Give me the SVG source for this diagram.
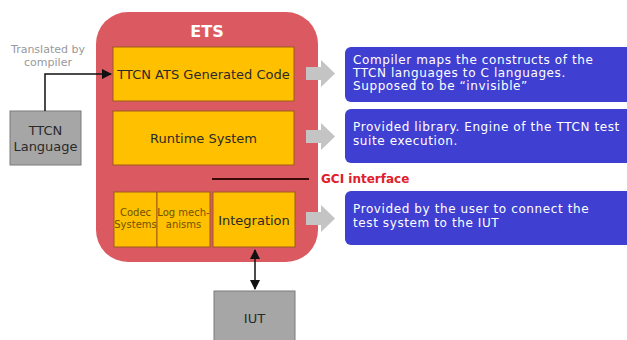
<svg xmlns="http://www.w3.org/2000/svg" width="627" height="340" viewBox="0 0 627 340">
<defs>
<style>
text{font-family:"DejaVu Sans","Verdana",sans-serif}
.ylw{fill:#ffc000;stroke:#9c5a1c;stroke-width:1}
.gry{fill:#a6a6a6;stroke:#7a7a7a;stroke-width:1}
.blu{fill:#3f3fd2}
.bt{fill:#fff;font-size:12px;letter-spacing:0.6px}
.dk{fill:#2a2a2a;font-size:13px;text-anchor:middle}
.sm{fill:#6e5200;font-size:10px;text-anchor:middle}
.ga{fill:#c4c4c4}
</style>
<marker id="ah" viewBox="0 0 10 10" refX="9" refY="5" markerWidth="7" markerHeight="7" orient="auto-start-reverse"><path d="M0,0 L10,5 L0,10 z" fill="#111"/></marker>
</defs>
<rect width="627" height="340" fill="#fff"/>
<g id="ets">
<rect x="96" y="12" width="222" height="250" rx="32" fill="#db5a61"/>
<text x="207" y="37" fill="#fff" font-size="16" font-weight="bold" text-anchor="middle">ETS</text>
</g>
<g id="ats"><rect class="ylw" x="113" y="47" width="181" height="54"/><text class="dk" x="203.5" y="79" font-size="14">TTCN ATS Generated Code</text></g>
<g id="runtime"><rect class="ylw" x="113" y="111" width="181" height="54"/><text class="dk" x="203.5" y="143">Runtime System</text></g>
<g id="codec"><rect class="ylw" x="114" y="192" width="43" height="55"/><text class="sm" x="135.5" y="216">Codec</text><text class="sm" x="135.5" y="228">Systems</text></g>
<g id="log"><rect class="ylw" x="157" y="192" width="53" height="55"/><text class="sm" x="183.5" y="216">Log mech-</text><text class="sm" x="183.5" y="228">anisms</text></g>
<g id="integration"><rect class="ylw" x="213" y="192" width="82" height="55"/><text class="dk" x="254" y="225" font-size="14">Integration</text></g>
<g id="ttcn"><rect class="gry" x="10" y="111" width="71" height="54"/><text class="dk" x="45.5" y="135">TTCN</text><text class="dk" x="45.5" y="151">Language</text></g>
<g id="iut"><rect class="gry" x="214" y="291" width="81" height="55"/><text class="dk" x="254.5" y="323">IUT</text></g>
<g id="translated"><text x="48" y="53" fill="#999" font-size="11" text-anchor="middle">Translated by</text><text x="48" y="66" fill="#999" font-size="11" text-anchor="middle">compiler</text></g>
<g id="gci"><text x="321" y="183" fill="#e0202a" font-size="12" font-weight="bold">GCI interface</text></g>
<g id="desc1"><rect class="blu" x="345" y="47" width="290" height="55" rx="6"/><text class="bt" x="353" y="64">Compiler maps the constructs of the</text><text class="bt" x="353" y="77">TTCN languages to C languages.</text><text class="bt" x="353" y="90">Supposed to be “invisible”</text></g>
<g id="desc2"><rect class="blu" x="345" y="109" width="290" height="54" rx="6"/><text class="bt" x="353" y="131">Provided library. Engine of the TTCN test</text><text class="bt" x="353" y="145">suite execution.</text></g>
<g id="desc3"><rect class="blu" x="345" y="191" width="290" height="54" rx="6"/><text class="bt" x="353" y="213">Provided by the user to connect the</text><text class="bt" x="353" y="227">test system to the IUT</text></g>
<g id="connectors">
<path d="M45,111 V74 H111" fill="none" stroke="#111" stroke-width="1.5" marker-end="url(#ah)"/>
<path d="M255,250 V289" fill="none" stroke="#111" stroke-width="1.5" marker-start="url(#ah)" marker-end="url(#ah)"/>
<line x1="212" y1="179" x2="309" y2="179" stroke="#3a0a0a" stroke-width="2"/>
<path class="ga" d="M306,67 H321 V60 L335,73.5 L321,87 V80 H306 z"/>
<path class="ga" d="M306,130 H321 V123 L335,136.5 L321,150 V143 H306 z"/>
<path class="ga" d="M306,212 H321 V205 L335,218.5 L321,232 V225 H306 z"/>
</g>
</svg>
